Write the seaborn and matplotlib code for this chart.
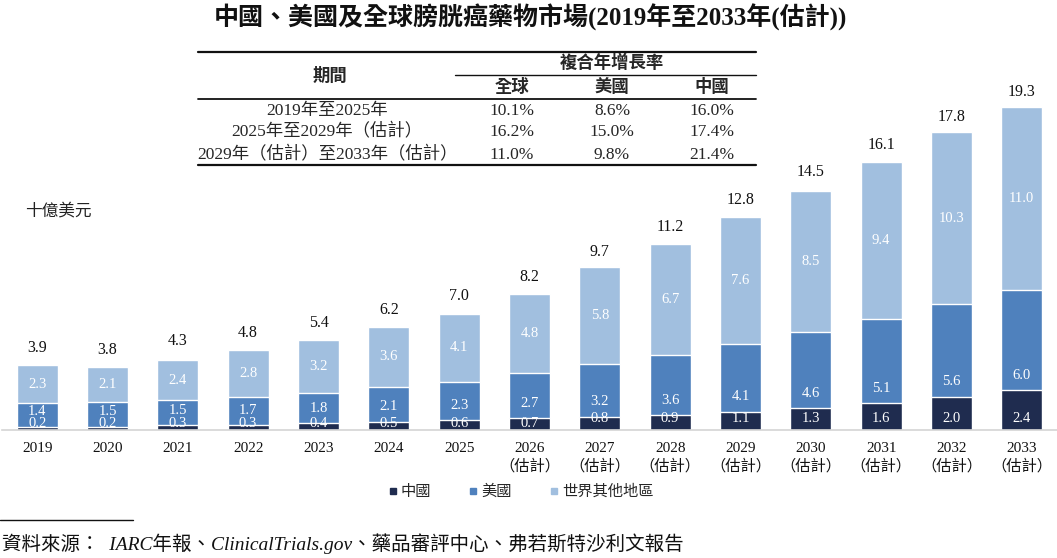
import numpy as np
import pandas as pd
import seaborn as sns
import matplotlib.pyplot as plt
from matplotlib.lines import Line2D

# data
years = ['2019', '2020', '2021', '2022', '2023', '2024', '2025',
         '2026\n（估計）', '2027\n（估計）', '2028\n（估計）', '2029\n（估計）',
         '2030\n（估計）', '2031\n（估計）', '2032\n（估計）', '2033\n（估計）']
china = [0.2, 0.2, 0.3, 0.3, 0.4, 0.5, 0.6, 0.7, 0.8, 0.9, 1.1, 1.3, 1.6, 2.0, 2.4]
usa = [1.4, 1.5, 1.5, 1.7, 1.8, 2.1, 2.3, 2.7, 3.2, 3.6, 4.1, 4.6, 5.1, 5.6, 6.0]
rest = [2.3, 2.1, 2.4, 2.8, 3.2, 3.6, 4.1, 4.8, 5.8, 6.7, 7.6, 8.5, 9.4, 10.3, 11.0]
totals = [3.9, 3.8, 4.3, 4.8, 5.4, 6.2, 7.0, 8.2, 9.7, 11.2, 12.8, 14.5, 16.1, 17.8, 19.3]

periods = ['2019年至2025年', '2025年至2029年（估計）', '2029年（估計）至2033年（估計）']
cagr_global = ['10.1%', '16.2%', '11.0%']
cagr_us = ['8.6%', '15.0%', '9.8%']
cagr_china = ['16.0%', '17.4%', '21.4%']

C_CN = '#1f2c4f'
C_US = '#4f81bd'
C_RW = '#a1bfdf'

sns.set_theme(style='white')
FONT = ['Liberation Serif', 'Noto Sans CJK TC', 'DejaVu Sans']
plt.rcParams['font.family'] = FONT

df = pd.DataFrame({'year': years, 'china': china, 'usa': usa, 'rest': rest})
df['cn_us'] = df['china'] + df['usa']
df['all'] = df['cn_us'] + df['rest']

W, H = 1057, 558
fig = plt.figure(figsize=(W / 100, H / 100), dpi=100)
# axes: x from 2px to 1057px, baseline at 430px, top at 31px
ax = fig.add_axes([2 / W, 1 - 430 / H, 1055 / W, 399 / H])

sns.barplot(data=df, x='year', y='all', color=C_RW, width=0.58, ax=ax, saturation=1)
sns.barplot(data=df, x='year', y='cn_us', color=C_US, width=0.58, ax=ax, saturation=1)
sns.barplot(data=df, x='year', y='china', color=C_CN, width=0.58, ax=ax, saturation=1)

ax.set_ylim(0, 24)
ax.set_xlim(-0.5, len(years) - 0.5)
ax.set_xlabel('')
ax.set_ylabel('')
ax.set_yticks([])
for s in ['top', 'right', 'left']:
    ax.spines[s].set_visible(False)
ax.spines['bottom'].set_color('#d4d4d4')
ax.spines['bottom'].set_linewidth(1.2)

ax.tick_params(axis='x', which='major', length=0, labelsize=11, pad=9, colors='#111111')
ax.set_xticks(np.arange(len(years)) - 0.5, minor=True)
ax.tick_params(axis='x', which='minor', length=5, color='#d4d4d4', width=1.2)
for lab in ax.get_xticklabels():
    lab.set_linespacing(1.25)

# value labels
for i in range(len(years)):
    cy = 0.4 if china[i] < 0.75 else 0.7
    ax.text(i, cy, f'{china[i]:.1f}', ha='center', va='center', color='white', fontsize=10.5)
    ax.text(i, china[i] + 0.9, f'{usa[i]:.1f}', ha='center', va='center',
            color='white', fontsize=10.5)
    ax.text(i, china[i] + usa[i] + rest[i] / 2, f'{rest[i]:.1f}', ha='center', va='center',
            color='white', fontsize=10.5)
    ax.text(i, totals[i] + 0.55, f'{totals[i]:.1f}', ha='center', va='bottom',
            color='#111111', fontsize=11.5)

def px(x, y):
    return x / W, 1 - y / H

# title
fig.text(*px(530, 17), '中國、美國及全球膀胱癌藥物市場(2019年至2033年(估計))',
         ha='center', va='center', fontsize=18, fontweight='bold', color='#111111')

# unit label
fig.text(*px(25, 212), '十億美元', ha='left', va='center', fontsize=12, color='#222222')

# CAGR table
def hline(x0, x1, y, lw):
    fig.add_artist(Line2D([x0 / W, x1 / W], [1 - y / H, 1 - y / H], color='#111111', lw=lw))

hline(198, 756, 52, 1.6)
hline(455, 756, 75, 1.0)
hline(198, 756, 99, 1.3)
hline(198, 756, 165, 1.6)

fig.text(*px(330, 76), '期間', ha='center', va='center', fontsize=12.5, fontweight='bold')
fig.text(*px(612, 63), '複合年增長率', ha='center', va='center', fontsize=12.5, fontweight='bold')
col_x = [512, 612, 712]
for cx, name in zip(col_x, ['全球', '美國', '中國']):
    fig.text(*px(cx, 88), name, ha='center', va='center', fontsize=12.5, fontweight='bold')
row_y = [111, 132, 155]
for ry, p, g, u, c in zip(row_y, periods, cagr_global, cagr_us, cagr_china):
    fig.text(*px(327, ry), p, ha='center', va='center', fontsize=12.5)
    for cx, v in zip(col_x, [g, u, c]):
        fig.text(*px(cx, ry), v, ha='center', va='center', fontsize=12.5)

# legend
handles = [Line2D([], [], marker='s', linestyle='', markersize=5, color=c)
           for c in [C_CN, C_US, C_RW]]
fig.legend(handles, ['中國', '美國', '世界其他地區'], loc='center', bbox_to_anchor=px(520, 492),
           ncol=3, frameon=False, fontsize=11, handletextpad=0.1, columnspacing=2.4,
           handlelength=0.8)

# source
hline(0, 133, 520, 1.0)
fig.text(*px(2, 544), '資料來源：  IARC年報、ClinicalTrials.gov、藥品審評中心、弗若斯特沙利文報告',
         ha='left', va='center', fontsize=14, style='italic', color='#111111')

fig.savefig('out.png', dpi=100)
